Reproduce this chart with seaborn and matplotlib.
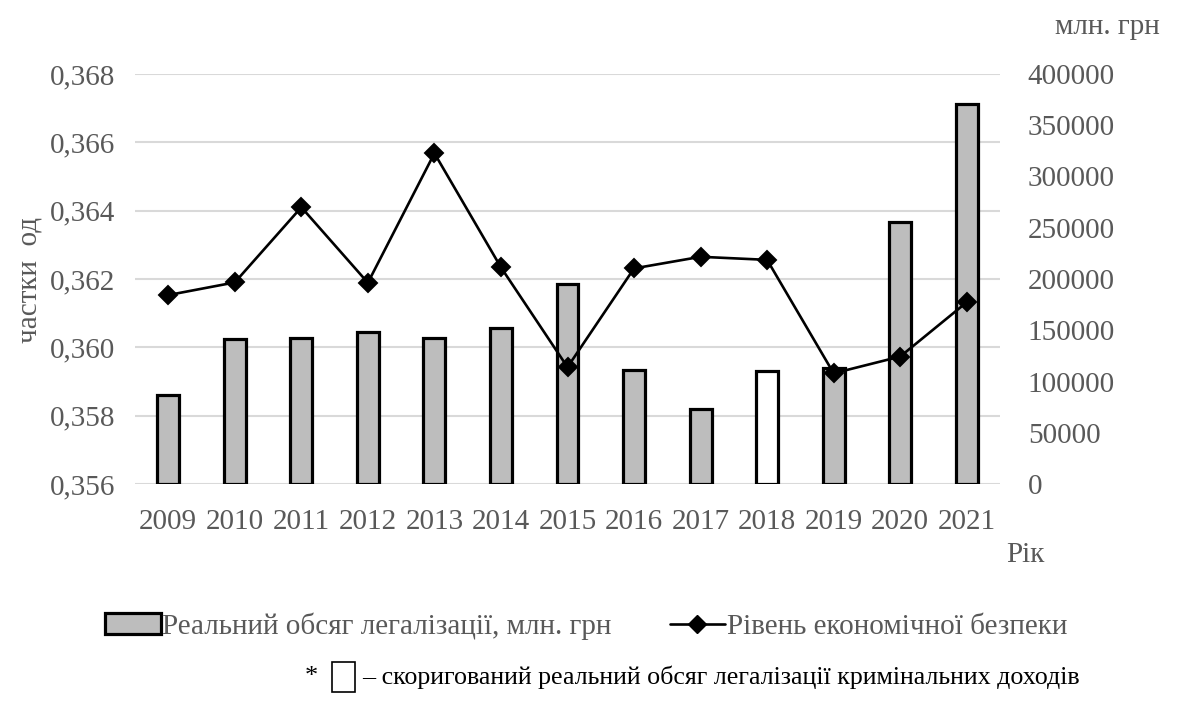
import numpy as np
import pandas as pd
import matplotlib
matplotlib.use("Agg")
import matplotlib.pyplot as plt
from matplotlib.patches import Patch, Rectangle
from matplotlib.lines import Line2D
from matplotlib.ticker import FuncFormatter, FixedLocator, NullFormatter
import seaborn as sns

years = ["2009", "2010", "2011", "2012", "2013", "2014", "2015",
         "2016", "2017", "2018", "2019", "2020", "2021"]
legal_volume = [87000, 141500, 142400, 148300, 142400, 152200, 195100,
                111200, 73200, 110200, 113200, 255600, 370700]
corrected = [False, False, False, False, False, False, False,
             False, False, True, False, False, False]
security_level = [0.36153, 0.36190, 0.36410, 0.36189, 0.36568, 0.36234, 0.35942,
                  0.36231, 0.36265, 0.36256, 0.35924, 0.35973, 0.36132]

left_ticks = [0.356, 0.358, 0.360, 0.362, 0.364, 0.366, 0.368]
right_ticks = [0, 50000, 100000, 150000, 200000, 250000, 300000, 350000, 400000]

sns.set_theme(style="white")
plt.rcParams['font.family'] = ['Liberation Serif', 'DejaVu Serif']

GRAY_TXT = "#595959"
BAR_FILL = "#bdbdbd"

fig = plt.figure(figsize=(11.78, 7.02), dpi=100)
ax = fig.add_axes([135/1178, 1-484/702, 865/1178, 410/702])
ax2 = ax.twinx()

df = pd.DataFrame({"year": years, "volume": legal_volume, "level": security_level,
                   "corr": corrected})
colors = ["white" if c else BAR_FILL for c in corrected]

sns.barplot(data=df, x="year", y="volume", hue="year", palette=colors, legend=False,
            ax=ax2, width=0.33, edgecolor="black", linewidth=2.3, saturation=1)
r_lo, r_hi = right_ticks[0], right_ticks[-1]
l_lo, l_hi = left_ticks[0], left_ticks[-1]
ax2.set_ylim(r_lo, r_hi)
ax2.set_yticks(right_ticks)
# gridlines follow the left-axis ticks, drawn behind the bars
grid_pos = [r_lo + (t - l_lo) / (l_hi - l_lo) * (r_hi - r_lo) for t in left_ticks]
ax2.yaxis.set_minor_locator(FixedLocator(grid_pos))
ax2.yaxis.set_minor_formatter(NullFormatter())
ax2.yaxis.remove_overlapping_locs = False
ax2.set_axisbelow(True)
ax2.yaxis.grid(True, which="minor", color="#d9d9d9", linewidth=1.5)
ax2.yaxis.grid(False, which="major")
ax2.set_ylabel("")

sns.pointplot(data=df, x="year", y="level", ax=ax, color="black", marker="D",
              markersize=9, linewidth=1.9)
ax.set_ylim(l_lo, l_hi)
ax.set_yticks(left_ticks)
ax.yaxis.set_major_formatter(FuncFormatter(lambda v, p: f"{v:.3f}".replace(".", ",")))
ax.set_zorder(ax2.get_zorder() + 1)
ax.patch.set_visible(False)
ax.grid(False)
ax.set_xlabel("")
ax.set_ylabel("")
ax.set_xlim(-0.5, len(years) - 0.5)

for a in (ax, ax2):
    for s in a.spines.values():
        s.set_visible(False)
    a.tick_params(axis="both", which="both", length=0, labelsize=21, labelcolor=GRAY_TXT)
ax.tick_params(axis="y", pad=14)
ax.tick_params(axis="x", pad=18)
ax2.tick_params(axis="y", pad=20)

fig.text(30/1178, 1-280/702, "частки  од", rotation=90, ha="center", va="center",
         fontsize=21, color=GRAY_TXT)
fig.text(1107/1178, 1-27/702, "млн. грн", ha="center", va="center",
         fontsize=21, color=GRAY_TXT)
fig.text(1025/1178, 1-555/702, "Рік", ha="center", va="center",
         fontsize=21, color=GRAY_TXT)

handles = [Patch(facecolor=BAR_FILL, edgecolor="black", linewidth=2.3),
           Line2D([0], [0], color="black", linewidth=1.9, marker="D", markersize=9)]
labels = ["Реальний обсяг легалізації, млн. грн", "Рівень економічної безпеки"]
leg = fig.legend(handles, labels, loc="center", bbox_to_anchor=(586/1178, 1-626/702),
                 ncol=2, frameon=False, fontsize=21, handlelength=1.9,
                 handletextpad=0.05, columnspacing=2.0)
for t in leg.get_texts():
    t.set_color(GRAY_TXT)

fig.text(305/1178, 1-677/702, "*", ha="left", va="center", fontsize=19, color="black")
fig.patches.append(Rectangle((332/1178, 1-692/702), 23/1178, 30/702,
                             transform=fig.transFigure, facecolor="white",
                             edgecolor="black", linewidth=1.2))
fig.text(362/1178, 1-677/702, "– скоригований реальний обсяг легалізації кримінальних доходів",
         ha="left", va="center", fontsize=18.7, color="black")

fig.savefig("out.png", dpi=100)
